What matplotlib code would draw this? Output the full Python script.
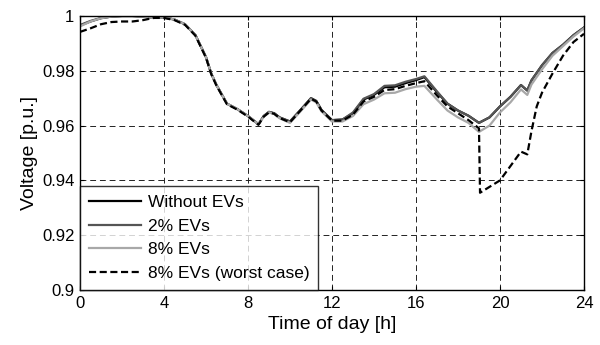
import matplotlib
matplotlib.use('Agg')
import matplotlib.pyplot as plt

plt.rcParams['font.family'] = ['Liberation Sans', 'DejaVu Sans']

# Datos (hora del dia, tension en p.u.)
horas = [0, 0.5, 1, 1.5, 2, 2.5, 3, 3.5, 4, 4.5, 5, 5.5, 6, 6.25, 6.5, 7, 7.5, 8,
         8.5, 8.75, 9, 9.25, 9.5, 10, 10.5, 11, 11.25, 11.5, 12, 12.5, 13, 13.5,
         14, 14.5, 15, 15.5, 16, 16.4, 17, 17.5, 18, 18.5, 19, 19.5, 20, 20.5,
         21, 21.3, 21.5, 22, 22.5, 23, 23.5, 24]
sin_ev = [0.9965, 0.998, 0.9992, 0.9998, 1.0, 1.0, 0.9998, 0.9993, 0.9995, 0.9987,
          0.997, 0.993, 0.985, 0.979, 0.9748, 0.968, 0.966, 0.9635, 0.9605, 0.9635,
          0.965, 0.9645, 0.963, 0.9615, 0.9657, 0.970, 0.969, 0.9657, 0.962, 0.9622,
          0.9645, 0.9695, 0.9712, 0.974, 0.9742, 0.9755, 0.9766, 0.9777, 0.9722,
          0.968, 0.9655, 0.9636, 0.961, 0.963, 0.967, 0.9705, 0.9748, 0.9728,
          0.9765, 0.982, 0.9865, 0.9895, 0.993, 0.9958]
ev_2 = [0.9967, 0.9982, 0.9993, 0.9998, 1.0, 1.0, 0.9998, 0.9993, 0.9995, 0.9987,
        0.997, 0.993, 0.985, 0.979, 0.9748, 0.968, 0.966, 0.9635, 0.9605, 0.9635,
        0.965, 0.9645, 0.963, 0.9615, 0.9657, 0.970, 0.969, 0.9657, 0.962, 0.9622,
        0.9648, 0.9698, 0.9715, 0.9745, 0.9747, 0.976, 0.977, 0.978, 0.9725,
        0.968, 0.9655, 0.9636, 0.961, 0.963, 0.967, 0.9705, 0.9748, 0.9728,
        0.9765, 0.982, 0.9865, 0.9895, 0.993, 0.9958]
ev_8 = [0.9962, 0.998, 0.9992, 0.9998, 1.0, 1.0, 0.9998, 0.9993, 0.9995, 0.9987,
        0.997, 0.993, 0.985, 0.979, 0.9748, 0.968, 0.966, 0.9635, 0.9605, 0.9632,
        0.9648, 0.9642, 0.9627, 0.961, 0.9652, 0.9695, 0.9685, 0.9652, 0.9615, 0.9615,
        0.9635, 0.9678, 0.9695, 0.9718, 0.972, 0.9733, 0.9742, 0.9745, 0.9695,
        0.9655, 0.963, 0.961, 0.9577, 0.960, 0.9648, 0.9685, 0.9732, 0.9712,
        0.975, 0.9805, 0.9855, 0.989, 0.9925, 0.9955]

horas_peor = [0, 0.5, 1, 1.5, 2, 2.5, 3, 3.5, 4, 4.5, 5, 5.5, 6, 6.25, 6.5, 7, 7.5,
              8, 8.5, 8.75, 9, 9.25, 9.5, 10, 10.5, 11, 11.25, 11.5, 12, 12.5, 13,
              13.5, 14, 14.5, 15, 15.5, 16, 16.4, 17, 17.5, 18, 18.5, 19, 19.05,
              20, 21, 21.3, 21.5, 21.75, 22, 22.5, 23, 23.5, 24]
ev_8_peor = [0.9942, 0.9955, 0.997, 0.9978, 0.998, 0.998, 0.9985, 0.9993, 0.9993,
             0.9985, 0.9968, 0.9928, 0.9848, 0.9788, 0.9746, 0.9678, 0.9658, 0.9633,
             0.9603, 0.9633, 0.9648, 0.9643, 0.9628, 0.9612, 0.9655, 0.9698, 0.9688,
             0.9655, 0.9618, 0.9618, 0.964, 0.9688, 0.9705, 0.973, 0.9733, 0.9745,
             0.9755, 0.9762, 0.971, 0.967, 0.9645, 0.962, 0.959, 0.9355,
             0.940, 0.9505, 0.9495, 0.958, 0.967, 0.972, 0.979, 0.9855, 0.9905, 0.9935]

fig = plt.figure(figsize=(6, 3.45), dpi=100)
ax = fig.add_axes([0.1333, 0.1594, 0.84, 0.7942])

ax.plot(horas, sin_ev, color='black', lw=1.6, label='Without EVs')
ax.plot(horas, ev_2, color='#555555', lw=1.6, label='2% EVs')
ax.plot(horas, ev_8, color='#a8a8a8', lw=1.6, label='8% EVs')
ax.plot(horas_peor, ev_8_peor, color='black', lw=1.6, ls=(0, (3.2, 1.6)),
        label='8% EVs (worst case)')

ax.set_xlim(0, 24)
ax.set_ylim(0.9, 1.0)
ax.set_xticks(range(0, 25, 4))
ax.set_yticks([0.9, 0.92, 0.94, 0.96, 0.98, 1.0])
ax.set_yticklabels(['0.9', '0.92', '0.94', '0.96', '0.98', '1'])
ax.tick_params(direction='in', labelsize=12, length=3, top=True, right=True, pad=4)
ax.grid(True, color='#222222', ls=(0, (6, 4)), lw=0.7)
for s in ax.spines.values():
    s.set_linewidth(1.0)

ax.set_xlabel('Time of day [h]', fontsize=14, labelpad=4)
ax.set_ylabel('Voltage [p.u.]', fontsize=14, labelpad=3)

leg = ax.legend(loc='lower left', fontsize=12.5, frameon=True, fancybox=False,
                edgecolor='black', borderaxespad=0, handlelength=3.0,
                handletextpad=0.4, labelspacing=0.5, borderpad=0.5)
leg.get_frame().set_linewidth(1.0)

fig.savefig('out.png', dpi=100)
